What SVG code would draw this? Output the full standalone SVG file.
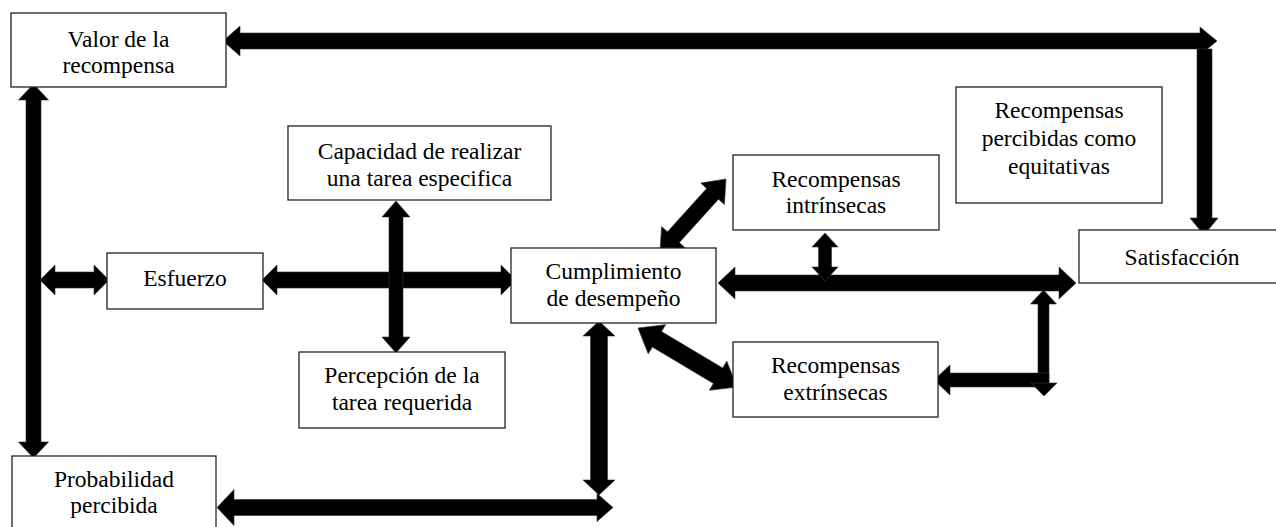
<svg xmlns="http://www.w3.org/2000/svg" width="1276" height="527" viewBox="0 0 1276 527">
<style>
.box{fill:#fff;stroke:#222;stroke-width:1.3}
.t{font-family:'Liberation Serif','Times New Roman',Times,'DejaVu Serif',serif;font-size:23.5px;fill:#000;text-anchor:middle}
.ar{fill:#000;stroke:#333;stroke-width:0.6}
</style>
<rect width="1276" height="527" fill="#fff"/>
<g id="connectors">
<polygon class="ar" points="223,41 240,26 240,33 1200,33 1200,27 1217,41 1200,55 1200,49 240,49 240,56"/>
<polygon class="ar" points="1197,49 1212,49 1212,218 1218,218 1204,235 1190,218 1197,218"/>
<polygon class="ar" points="33.5,84 48.5,100 41,100 41,442 48.5,442 33.5,458 18.5,442 26,442 26,100 18.5,100"/>
<polygon class="ar" points="40,280 55,265 55,272 94,272 94,265 109,280 94,295 94,288 55,288 55,295"/>
<polygon class="ar" points="262,280 277,265 277,272 501,272 501,265 516,280 501,295 501,288 277,288 277,295"/>
<polygon class="ar" points="396,201 410,217 403,217 403,337 410,337 396,353 382,337 389,337 389,217 382,217"/>
<polygon class="ar" transform="translate(693 215.5) rotate(-47.9)" points="-49.2,0 -29.2,-16 -29.2,-8 29.2,-8 29.2,-16 49.2,0 29.2,16 29.2,8 -29.2,8 -29.2,16"/>
<polygon class="ar" transform="translate(687.5 357.5) rotate(30.8)" points="-57.6,0 -35.6,-17 -35.6,-9 35.6,-9 35.6,-17 57.6,0 35.6,17 35.6,9 -35.6,9 -35.6,17"/>
<polygon class="ar" points="718,283 735,267 735,275 1059,275 1059,267 1076,283 1059,299 1059,291 735,291 735,299"/>
<polygon class="ar" points="825,233 838,247 831.5,247 831.5,267 838,267 825,281 812,267 818.5,267 818.5,247 812,247"/>
<polygon class="ar" points="1043.5,290 1056.5,304 1049,304 1049,387 1038,387 1038,304 1030.5,304"/>
<polygon class="ar" points="934,380 950,365 950,373 1049,373 1049,387 950,387 950,395"/>
<polygon class="ar" points="1031,383 1057,383 1044,396"/>
<polygon class="ar" points="599,321 615,336 607.5,336 607.5,480 615,480 599,495 583,480 590.5,480 590.5,336 583,336"/>
<polygon class="ar" points="217,507.5 234,489.5 234,499.5 597,499.5 597,493.5 613,507.5 597,521.5 597,515.5 234,515.5 234,525.5"/>
</g>
<g font-family="Liberation Serif, serif">
<g id="valor">
<rect class="box" x="11" y="13" width="215" height="74"/>
<text class="t" x="118.5" y="47">Valor de la</text>
<text class="t" x="118.5" y="73">recompensa</text>
</g>
<g id="capacidad">
<rect class="box" x="288" y="126" width="263" height="74"/>
<text class="t" x="419.5" y="159">Capacidad de realizar</text>
<text class="t" x="419.5" y="186">una tarea especifica</text>
</g>
<g id="equitativas">
<rect class="box" x="956" y="87" width="206" height="116"/>
<text class="t" x="1059" y="118">Recompensas</text>
<text class="t" x="1059" y="146">percibidas como</text>
<text class="t" x="1059" y="174">equitativas</text>
</g>
<g id="intrinsecas">
<rect class="box" x="733" y="155" width="206" height="75"/>
<text class="t" x="836" y="187">Recompensas</text>
<text class="t" x="836" y="213">intrínsecas</text>
</g>
<g id="satisfaccion">
<rect class="box" x="1079" y="230" width="210" height="53"/>
<text class="t" x="1182" y="265">Satisfacción</text>
</g>
<g id="esfuerzo">
<rect class="box" x="107" y="253" width="156" height="56"/>
<text class="t" x="185" y="286">Esfuerzo</text>
</g>
<g id="cumplimiento">
<rect class="box" x="511" y="248" width="205" height="75"/>
<text class="t" x="613.5" y="279">Cumplimiento</text>
<text class="t" x="613.5" y="306">de desempeño</text>
</g>
<g id="percepcion">
<rect class="box" x="299" y="352" width="206" height="76"/>
<text class="t" x="402" y="383">Percepción de la</text>
<text class="t" x="402" y="410">tarea requerida</text>
</g>
<g id="extrinsecas">
<rect class="box" x="733" y="342" width="205" height="75"/>
<text class="t" x="835.5" y="373">Recompensas</text>
<text class="t" x="835.5" y="400">extrínsecas</text>
</g>
<g id="probabilidad">
<rect class="box" x="12" y="456" width="204" height="80"/>
<text class="t" x="114" y="487">Probabilidad</text>
<text class="t" x="114" y="513">percibida</text>
</g>
</g>
</svg>
